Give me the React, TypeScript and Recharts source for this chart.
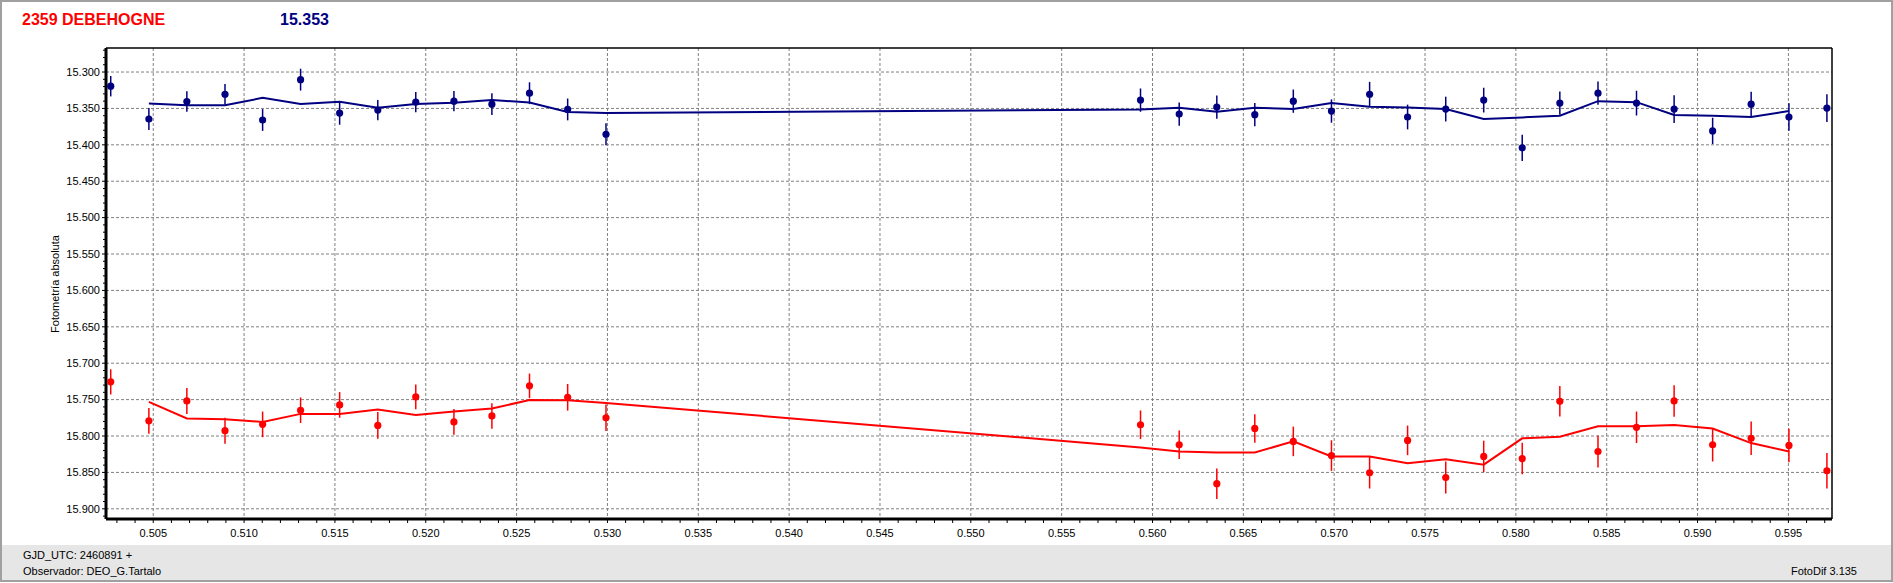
import { ComposedChart, Line, Scatter, ErrorBar, XAxis, YAxis, CartesianGrid, ReferenceLine } from "recharts";

// GJD_UTC - 2460891
const jd = [
    0.50266, 0.50476, 0.50685, 0.50895, 0.51102, 0.51311, 0.51526, 0.51736, 0.51945, 0.52155, 0.52364,
    0.52571, 0.52781, 0.52992, 0.55934, 0.56147, 0.56354, 0.56563, 0.56775, 0.56985, 0.57195, 0.57404,
    0.57614, 0.57823, 0.58035, 0.58242, 0.58452, 0.58664, 0.58871, 0.59083, 0.59295, 0.59503, 0.59712,
];

// comparison star (navy)
const compMag = [
    15.3195, 15.3645, 15.3405, 15.3305, 15.3659, 15.3105, 15.3564, 15.3523, 15.3414, 15.340, 15.3441,
    15.3291, 15.3514, 15.3855, 15.3386, 15.3577, 15.3482, 15.3586, 15.340, 15.3536, 15.3305, 15.3618,
    15.3509, 15.3386, 15.4041, 15.3427, 15.3291, 15.3427, 15.3509, 15.3809, 15.3441, 15.3618, 15.3495,
];
const compErr = [
    0.014, 0.015, 0.014, 0.014, 0.015, 0.015, 0.016, 0.014, 0.014, 0.014, 0.015,
    0.015, 0.015, 0.015, 0.016, 0.016, 0.016, 0.016, 0.016, 0.016, 0.017, 0.017,
    0.017, 0.017, 0.018, 0.016, 0.016, 0.017, 0.019, 0.018, 0.017, 0.019, 0.019,
];
const compFit = [
    15.3432, 15.3455, 15.3455, 15.3355, 15.344, 15.3409, 15.349, 15.344, 15.3423, 15.3386, 15.3418,
    15.355, 15.3564, 15.3514, 15.349, 15.3545, 15.349, 15.3509, 15.3427, 15.3477, 15.3486, 15.3509,
    15.3645, 15.3623, 15.36, 15.340, 15.3414, 15.3591, 15.360, 15.3618, 15.3536,
];

// asteroid (red)
const targetMag = [
    15.7256, 15.7792, 15.7518, 15.7927, 15.784, 15.7646, 15.7573, 15.7854, 15.7463, 15.7806, 15.7724,
    15.7311, 15.7468, 15.7749, 15.7845, 15.812, 15.8655, 15.7896, 15.8074, 15.8269, 15.8505, 15.806,
    15.857, 15.828, 15.831, 15.7523, 15.8213, 15.788, 15.7518, 15.812, 15.8032, 15.813, 15.8477,
];
const targetErr = [
    0.0173, 0.0178, 0.0178, 0.0178, 0.0176, 0.0176, 0.0176, 0.0183, 0.017, 0.0178, 0.0175,
    0.0169, 0.0183, 0.0183, 0.0196, 0.0196, 0.021, 0.0196, 0.0203, 0.021, 0.0216, 0.0203,
    0.022, 0.0216, 0.0216, 0.021, 0.022, 0.0216, 0.0216, 0.023, 0.023, 0.023, 0.0244,
];
const targetFit = [
    15.7532, 15.776, 15.7769, 15.7806, 15.7696, 15.7696, 15.7637, 15.771, 15.7664, 15.7623, 15.7505,
    15.7509, 15.7546, 15.8157, 15.8213, 15.8227, 15.8227, 15.8074, 15.828, 15.828, 15.8375, 15.832,
    15.8394, 15.8032, 15.801, 15.7866, 15.7866, 15.785, 15.7898, 15.8097, 15.8213,
];

const xLabels = [0.505, 0.51, 0.515, 0.52, 0.525, 0.53, 0.535, 0.54, 0.545, 0.55, 0.555, 0.56, 0.565, 0.57, 0.575, 0.58, 0.585, 0.59, 0.595];
const yLabels = [15.3, 15.35, 15.4, 15.45, 15.5, 15.55, 15.6, 15.65, 15.7, 15.75, 15.8, 15.85, 15.9];

const X_DOMAIN = [0.5024, 0.5974];
const Y_DOMAIN = [15.267, 15.914];

// minor ticks: every 0.001 on x, every 0.01 on y
const xTicks: number[] = [];
for (let i = 503; i <= 597; i++) xTicks.push(i / 1000);
const yTicks: number[] = [];
for (let i = 1527; i <= 1591; i++) yTicks.push(i / 100);

const isMultiple = (v: number, step: number) => Math.abs(v / step - Math.round(v / step)) < 1e-6;

const FONT = "'Liberation Sans', Arial, sans-serif";
const RED = "#ff0000";
const NAVY = "#000080";

const compData = jd.map((x, i) => ({ x, y: compMag[i], err: compErr[i] }));
const targetData = jd.map((x, i) => ({ x, y: targetMag[i], err: targetErr[i] }));
const compFitData = compFit.map((y, i) => ({ x: jd[i + 1], y }));
const targetFitData = targetFit.map((y, i) => ({ x: jd[i + 1], y }));

function XTick(props: any) {
    const { x, y, payload } = props;
    const major = isMultiple(payload.value, 0.005);
    return (
        <g>
            <line x1={x} y1={y} x2={x} y2={y + 4} stroke="#000" strokeWidth={1} />
            {major && (
                <text x={x} y={y + 18} textAnchor="middle" fontSize={11} fontFamily={FONT} fill="#000">
                    {payload.value.toFixed(3)}
                </text>
            )}
        </g>
    );
}

function YTick(props: any) {
    const { x, y, payload } = props;
    const major = isMultiple(payload.value, 0.05);
    return (
        <g>
            <line x1={x - (major ? 4 : 3)} y1={y} x2={x} y2={y} stroke="#000" strokeWidth={1} />
            {major && (
                <text x={x - 6} y={y} dy="0.35em" textAnchor="end" fontSize={11} fontFamily={FONT} fill="#000">
                    {payload.value.toFixed(3)}
                </text>
            )}
        </g>
    );
}

const makeDot = (color: string) => (p: any) => <circle cx={p.cx} cy={p.cy} r={3.6} fill={color} />;

export default function App() {
    return (
        <div style={{ position: "absolute", left: 0, top: 0, width: 1893, height: 583, background: "#fff", fontFamily: FONT }}>
            <div style={{ position: "absolute", left: 22, top: 11, fontSize: 16, fontWeight: 700, color: RED }}>2359 DEBEHOGNE</div>
            <div style={{ position: "absolute", left: 280, top: 11, fontSize: 16, fontWeight: 700, color: NAVY }}>15.353</div>

            <div style={{ position: "absolute", left: 0, top: 0 }}>
                <ComposedChart width={1893} height={545} margin={{ top: 48, right: 61, bottom: 6, left: 46 }}>
                    <CartesianGrid
                        stroke="#808080"
                        strokeDasharray="3 2"
                        horizontalValues={yLabels}
                        verticalValues={xLabels}
                    />
                    <XAxis
                        type="number"
                        dataKey="x"
                        domain={X_DOMAIN}
                        allowDataOverflow
                        ticks={xTicks}
                        interval={0}
                        height={20}
                        tickSize={0}
                        tickMargin={0}
                        tickLine={false}
                        tick={XTick}
                        axisLine={{ stroke: "#000", strokeWidth: 3 }}
                    />
                    <YAxis
                        type="number"
                        dataKey="y"
                        domain={Y_DOMAIN}
                        reversed
                        allowDataOverflow
                        ticks={yTicks}
                        interval={0}
                        width={60}
                        tickSize={0}
                        tickMargin={0}
                        tickLine={false}
                        tick={YTick}
                        axisLine={{ stroke: "#000", strokeWidth: 3 }}
                        label={{
                            content: () => (
                                <text x={55} y={284} transform="rotate(-90 55 284)" textAnchor="middle" dy="0.35em" fontSize={11} fontFamily={FONT} fill="#000">
                                    Fotometría absoluta
                                </text>
                            ),
                        }}
                    />
                    <ReferenceLine y={Y_DOMAIN[0]} stroke="#000" strokeWidth={1.5} ifOverflow="visible" />
                    <ReferenceLine x={X_DOMAIN[1]} stroke="#000" strokeWidth={1.5} ifOverflow="visible" />

                    <Line data={compFitData} dataKey="y" type="linear" stroke={NAVY} strokeWidth={2} dot={false} activeDot={false} isAnimationActive={false} />
                    <Line data={targetFitData} dataKey="y" type="linear" stroke={RED} strokeWidth={2} dot={false} activeDot={false} isAnimationActive={false} />

                    <Scatter data={compData} dataKey="y" fill={NAVY} shape={makeDot(NAVY)} isAnimationActive={false}>
                        <ErrorBar dataKey="err" direction="y" width={0} stroke={NAVY} strokeWidth={1.5} isAnimationActive={false} />
                    </Scatter>
                    <Scatter data={targetData} dataKey="y" fill={RED} shape={makeDot(RED)} isAnimationActive={false}>
                        <ErrorBar dataKey="err" direction="y" width={0} stroke={RED} strokeWidth={1.5} isAnimationActive={false} />
                    </Scatter>
                </ComposedChart>
            </div>

            <div style={{ position: "absolute", left: 0, top: 545, width: 1893, height: 35, background: "#e6e6e6", fontSize: 11, color: "#000" }}>
                <div style={{ position: "absolute", left: 23, top: 4 }}>GJD_UTC: 2460891 +</div>
                <div style={{ position: "absolute", left: 23, top: 20 }}>Observador: DEO_G.Tartalo</div>
                <div style={{ position: "absolute", right: 36, top: 20 }}>FotoDif 3.135</div>
            </div>

            <div style={{ position: "absolute", left: 0, top: 0, width: 1893, height: 582, boxSizing: "border-box", border: "2px solid #a0a0a0", pointerEvents: "none" }} />
        </div>
    );
}
